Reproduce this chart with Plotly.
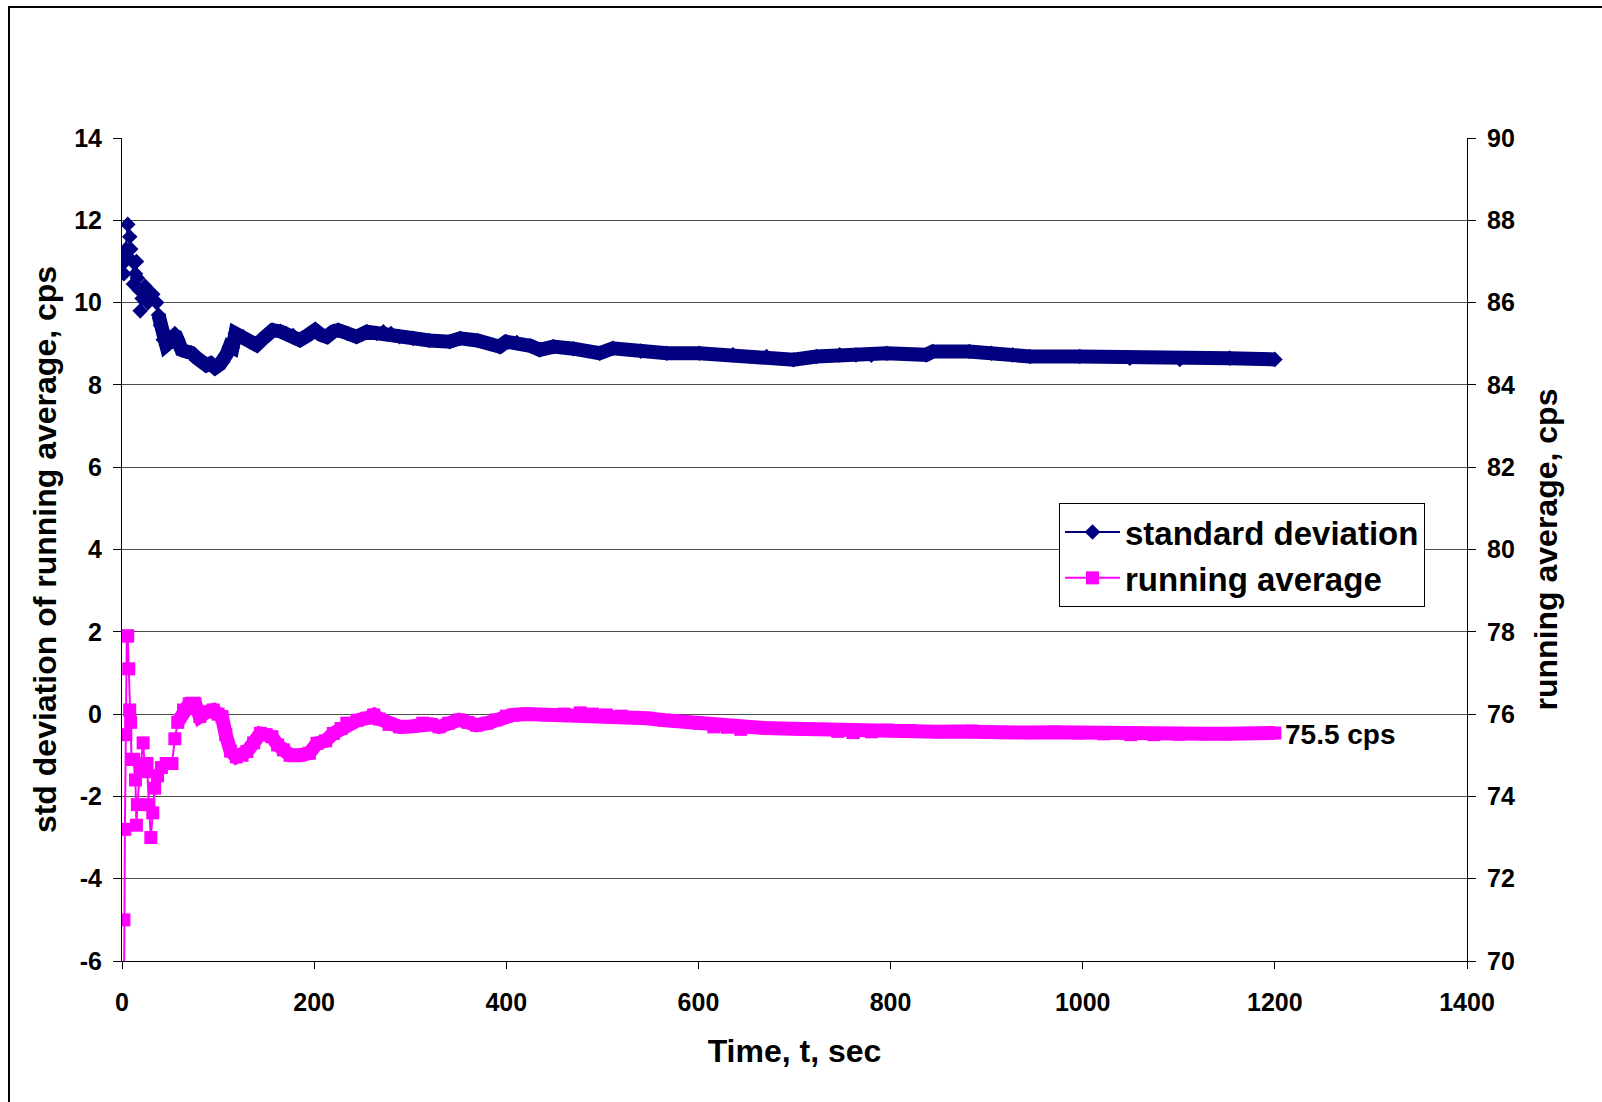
import plotly.graph_objects as go

# ---- data ----
t_std = [1, 2, 3, 4, 6, 8, 9, 11, 12, 14, 15, 16, 18, 19, 21, 24, 27, 29, 32, 36, 38, 40, 43, 46,
         50, 55, 58, 62, 67, 72, 78, 84, 88, 92, 97, 102, 105, 109, 112, 115, 118, 126, 133, 140,
         148, 157, 165, 171, 178, 185, 193, 201, 207, 213, 220, 225, 235, 244, 255, 265, 272, 280,
         289, 303, 320, 341, 352, 370, 393, 400, 411, 425, 435, 449, 470, 497, 511, 540, 567, 601,
         636, 671, 699, 723, 747, 764, 780, 796, 837, 844, 882, 905, 927, 945, 997, 1049, 1101,
         1153, 1200]
std_dev = [10.95, 10.7, 11.1, 11.3, 11.9, 11.6, 11.3, 11.0, 10.45, 10.7, 11.0, 10.6, 10.3, 9.8,
           10.1, 10.4, 10.0, 10.26, 10.2, 10.0, 9.7, 9.45, 9.1, 8.97, 9.05, 9.25, 9.1, 8.85, 8.81,
           8.78, 8.65, 8.55, 8.48, 8.52, 8.42, 8.5, 8.56, 8.75, 8.93, 8.9, 9.25, 9.17, 9.05, 8.97,
           9.15, 9.33, 9.3, 9.25, 9.2, 9.09, 9.2, 9.33, 9.22, 9.17, 9.3, 9.33, 9.25, 9.17, 9.29,
           9.25, 9.29, 9.25, 9.17, 9.13, 9.08, 9.05, 9.13, 9.08, 8.93, 9.05, 9.03, 8.95, 8.85, 8.93,
           8.88, 8.77, 8.89, 8.82, 8.77, 8.77, 8.73, 8.69, 8.61, 8.69, 8.73, 8.73, 8.72, 8.77, 8.73,
           8.81, 8.81, 8.77, 8.73, 8.69, 8.69, 8.65, 8.62, 8.65, 8.62]

t_avg = [1, 2, 3, 4, 5, 6, 7, 8, 9, 10, 12, 14, 15, 16, 19, 22, 24, 26, 28, 30, 32, 34, 37, 41,
         46, 52, 55, 58, 64, 70, 76, 81, 88, 95, 100, 104, 108, 113, 119, 125, 130, 137, 144, 150,
         156, 162, 168, 175, 185, 195, 203, 212, 220, 228, 234, 245, 255, 262, 268, 278, 289, 300,
         313, 322, 330, 340, 351, 360, 369, 380, 390, 400, 407, 420, 442, 460, 477, 490, 504, 520,
         546, 565, 581, 600, 616, 630, 644, 651, 670, 686, 705, 726, 745, 761, 780, 796, 820, 849,
         870, 884, 900, 918, 945, 970, 995, 1022, 1050, 1074, 1100, 1126, 1150, 1171, 1200]
run_avg = [64.0, 71.0, 73.2, 75.5, 77.9, 77.9, 77.1, 76.1, 75.8, 74.9, 74.9, 74.4, 73.3, 73.8,
           74.7, 75.3, 74.6, 74.8, 73.8, 73.0, 73.6, 74.2, 74.5, 74.7, 74.8, 74.8, 75.4, 75.8,
           76.1, 76.25, 76.25, 75.94, 76.05, 76.1, 76.0, 75.94, 75.5, 75.1, 74.96, 75.0, 75.09,
           75.3, 75.53, 75.5, 75.45, 75.25, 75.13, 75.0, 75.0, 75.05, 75.29, 75.35, 75.53, 75.65,
           75.78, 75.85, 75.9, 75.98, 75.88, 75.75, 75.69, 75.7, 75.78, 75.75, 75.69, 75.78, 75.86,
           75.8, 75.73, 75.78, 75.86, 75.95, 75.98, 76.0, 75.98, 76.0, 76.03, 76.0, 75.98, 75.95,
           75.9, 75.85, 75.82, 75.78, 75.69, 75.68, 75.63, 75.68, 75.66, 75.65, 75.64, 75.63, 75.58,
           75.55, 75.57, 75.61, 75.6, 75.57, 75.58, 75.59, 75.57, 75.55, 75.55, 75.56, 75.54, 75.52,
           75.5, 75.5, 75.51, 75.52, 75.52, 75.53, 75.54]

x_ticks = [0, 200, 400, 600, 800, 1000, 1200, 1400]
y_ticks = [-6, -4, -2, 0, 2, 4, 6, 8, 10, 12, 14]
y2_ticks = [70, 72, 74, 76, 78, 80, 82, 84, 86, 88, 90]

final_label = "75.5 cps"
std_name = "standard deviation"
avg_name = "running average"

NAVY = "#000080"
MAGENTA = "#FF00FF"
FONT = "Liberation Sans, Arial, sans-serif"

# plot-area geometry (pixels)
L, R, T, B = 122, 1467, 138, 961
W, H = 1602, 1102

fig = go.Figure()

# thick band under the dense later part (original has one point per second)
band_std_start = 20
band_avg_start = 27
fig.add_trace(go.Scatter(x=t_std[band_std_start:], y=std_dev[band_std_start:], mode="lines",
                         line=dict(color=NAVY, width=14), showlegend=False, hoverinfo="skip",
                         yaxis="y"))
fig.add_trace(go.Scatter(x=t_avg[band_avg_start:], y=run_avg[band_avg_start:], mode="lines",
                         line=dict(color=MAGENTA, width=14), showlegend=False, hoverinfo="skip",
                         yaxis="y2"))

fig.add_trace(go.Scatter(x=t_std, y=std_dev, mode="lines+markers", name=std_name,
                         line=dict(color=NAVY, width=2),
                         marker=dict(symbol="diamond", size=12, color=NAVY), yaxis="y"))
fig.add_trace(go.Scatter(x=t_avg, y=run_avg, mode="lines+markers", name=avg_name,
                         line=dict(color=MAGENTA, width=2),
                         marker=dict(symbol="square", size=13, color=MAGENTA), yaxis="y2"))

fig.add_annotation(x=t_avg[-1], y=run_avg[-1], xref="x", yref="y2", text=final_label,
                   showarrow=False, xanchor="left", yanchor="middle", xshift=8, yshift=-1,
                   font=dict(family=FONT, size=28, color="black", weight="bold"))

px = lambda p: (p - L) / (R - L)
py = lambda p: (B - p) / (B - T)
fig.add_shape(type="rect", xref="paper", yref="paper",
              x0=px(9), x1=px(1700), y0=py(1200), y1=py(7),
              line=dict(color="black", width=2), fillcolor="rgba(0,0,0,0)", layer="above")

tickfont = dict(family=FONT, size=25, color="black", weight="bold")
titlefont = dict(family=FONT, size=32, color="black", weight="bold")

fig.update_layout(
    width=W, height=H,
    margin=dict(l=L, r=W - R, t=T, b=H - B, autoexpand=False),
    paper_bgcolor="white", plot_bgcolor="white",
    font=dict(family=FONT, color="black"),
    xaxis=dict(range=[0, 1400], tickvals=x_ticks, ticktext=[str(v) for v in x_ticks],
               showgrid=False, zeroline=False,
               showline=True, linecolor="black", linewidth=1,
               ticks="outside", ticklen=7, tickcolor="black", tickfont=tickfont,
               ticklabelstandoff=12,
               title=dict(text="Time, t, sec", font=titlefont, standoff=24)),
    yaxis=dict(range=[-6, 14], tickvals=y_ticks, ticktext=[str(v) for v in y_ticks],
               showgrid=True, gridcolor="#4d4d4d",
               gridwidth=1, zeroline=False, showline=True, linecolor="black", linewidth=1,
               ticks="outside", ticklen=8, tickcolor="black", tickfont=tickfont,
               ticklabelstandoff=6,
               title=dict(text="std deviation of running average, cps", font=titlefont,
                          standoff=7)),
    yaxis2=dict(range=[70, 90], tickvals=y2_ticks, ticktext=[str(v) for v in y2_ticks],
                overlaying="y", side="right",
                showgrid=False, zeroline=False, showline=True, linecolor="black", linewidth=1,
                ticks="outside", ticklen=8, tickcolor="black", tickfont=tickfont,
                ticklabelstandoff=6,
                title=dict(text="running average, cps", font=titlefont, standoff=20)),
    legend=dict(x=px(1059), y=py(503), xanchor="left", yanchor="top",
                bgcolor="white", bordercolor="black", borderwidth=1,
                font=dict(family=FONT, size=33, color="black", weight="bold"),
                itemwidth=55, traceorder="normal", tracegroupgap=0),
    showlegend=True,
)

fig.write_html("out.html")
